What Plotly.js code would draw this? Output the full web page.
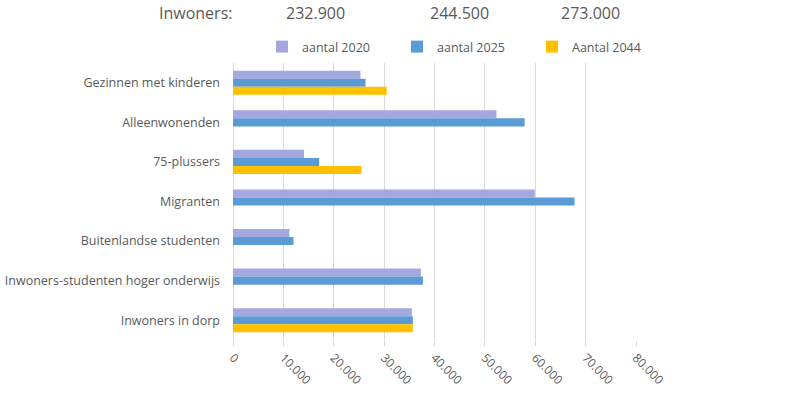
<!DOCTYPE html>
<html>
<head>
<meta charset="utf-8">
<script src="https://cdn.plot.ly/plotly-3.0.1.min.js"></script>
<style>html,body{margin:0;padding:0;background:#fff;}#chart{width:800px;height:393px;}</style>
</head>
<body>
<div id="chart"></div>
<script>
const categories = ["Gezinnen met kinderen", "Alleenwonenden", "75-plussers", "Migranten",
  "Buitenlandse studenten", "Inwoners-studenten hoger onderwijs", "Inwoners in dorp"];
const seriesNames = ["aantal 2020", "aantal 2025", "Aantal 2044"];
const aantal2020 = [25300, 52300, 14100, 59900, 11200, 37300, 35500];
const aantal2025 = [26300, 57900, 17100, 67800, 12000, 37700, 35700];
const aantal2044 = [30500, null, 25500, null, null, null, 35700];
const inwonersLabel = "Inwoners:";
const inwoners = [232900, 244500, 273000];
const xTicks = [0, 10000, 20000, 30000, 40000, 50000, 60000, 70000, 80000];

const colors = ["#A5A8E0", "#5B9BD5", "#FFC000"];
const seriesValues = [aantal2020, aantal2025, aantal2044];
const font = "'Open Sans', 'Noto Sans', sans-serif";
const grey = "#595959";

const traces = seriesValues.map((vals, i) => ({
  type: "bar", orientation: "h",
  y: categories, x: vals, name: seriesNames[i],
  marker: {color: colors[i]},
  hoverinfo: "x+name"
}));

function fmt(n){ return String(n).replace(/\B(?=(\d{3})+(?!\d))/g, "."); }

const L = 233, R = 636, T = 63, B = 340;
function px2x(px){ return (px - L) / (R - L); }
function py2y(py){ return (B - py) / (B - T); }
const numCenters = [315, 459, 590];
const annotations = [{
  xref: "paper", yref: "paper", x: px2x(195), y: py2y(13), xanchor: "center", yanchor: "middle",
  text: inwonersLabel, showarrow: false, font: {family: font, size: 16, color: grey}
}].concat(inwoners.map((v, i) => ({
  xref: "paper", yref: "paper", x: px2x(numCenters[i]), y: py2y(13), xanchor: "center", yanchor: "middle",
  text: fmt(v), showarrow: false, font: {family: font, size: 16, color: grey}
})));

const layout = {
  width: 800, height: 393,
  margin: {l: L, r: 800 - R, t: T, b: 393 - B, pad: 0, autoexpand: false},
  paper_bgcolor: "#fff", plot_bgcolor: "#fff",
  barmode: "group", bargap: 0.39, bargroupgap: 0,
  separators: ",.",
  font: {family: font, color: grey, size: 12},
  showlegend: true,
  legend: {
    orientation: "h", xref: "container", yref: "container",
    x: 262 / 800, xanchor: "left", y: 1 - 47 / 393, yanchor: "middle",
    bgcolor: "rgba(0,0,0,0)",
    font: {family: font, size: 12.5, color: grey}, entrywidth: 90, entrywidthmode: "pixels",
    traceorder: "normal", itemclick: false
  },
  xaxis: {
    range: [0, 80000], tickvals: xTicks, ticktext: xTicks.map(fmt),
    tickangle: 45, showgrid: true, gridcolor: "#d9d9d9", gridwidth: 1,
    zeroline: true, zerolinecolor: "#d9d9d9", zerolinewidth: 1,
    ticks: "outside", ticklen: 5, tickcolor: "#d9d9d9",
    tickfont: {family: font, size: 12, color: grey}, showline: false, fixedrange: true
  },
  yaxis: {
    autorange: "reversed", showgrid: false, zeroline: false, showline: false,
    ticks: "", ticklabelstandoff: 12,
    tickfont: {family: font, size: 12.5, color: grey}, fixedrange: true
  },
  annotations: annotations
};

Plotly.newPlot("chart", traces, layout, {displayModeBar: false, staticPlot: true});
</script>
</body>
</html>
